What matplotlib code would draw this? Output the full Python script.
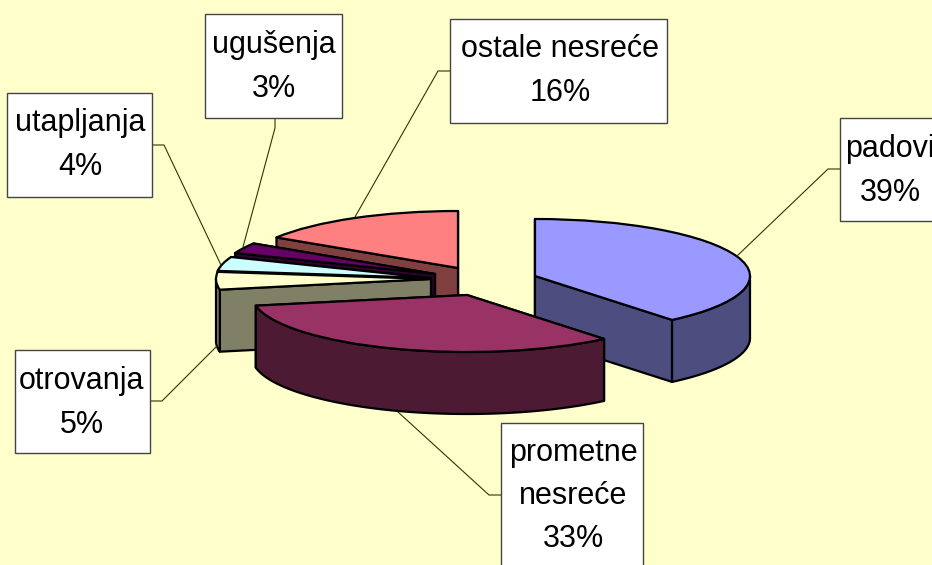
import numpy as np
import matplotlib
matplotlib.use('Agg')
import matplotlib.pyplot as plt
from matplotlib.patches import Rectangle

W, H = 932, 565
RX, RY = 215.0, 57.0   # pixels per pie radius, gives the flattened look
DEPTH = 62

labels = ['padovi', 'prometne\nnesreće', 'otrovanja', 'utapljanja', 'ugušenja', 'ostale nesreće']
values = [39, 33, 5, 4, 3, 16]
top_colors = ['#9999FF', '#993366', '#FFFFCC', '#CCFFFF', '#660066', '#FF8080']
wall_colors = ['#4D4D80', '#4D1A33', '#808066', '#668080', '#330033', '#804040']

# slice apex in picture pixels (exploded by hand)
apex = [(535, 276), (467, 295), (431, 279), (431, 278), (435, 274), (458, 268)]
# painter order, back to front
order = [5, 4, 3, 2, 0, 1]

# label boxes: left, top, right, bottom, text x, text y
boxes = [(840, 118, 945, 221, 890, 171),
         (501, 423, 643, 575, 573, 496),
         (15, 350, 150, 453, 82, 403),
         (7, 93, 152, 197, 80, 145),
         (205, 14, 342, 118, 274, 67),
         (450, 19, 667, 123, 560, 71)]
leaders = [[(840, 169), (828, 169), (737, 256)],
           [(501, 495), (489, 495), (398, 412)],
           [(150, 401), (162, 401), (217, 346)],
           [(152, 145), (164, 145), (221, 265)],
           [(275, 118), (275, 128), (243, 247)],
           [(450, 71), (438, 71), (355, 217)]]

def ux(x):
    return np.asarray(x) / RX
def uy(y):
    return (H - np.asarray(y)) / RY

plt.rcParams['font.family'] = ['Liberation Sans', 'DejaVu Sans']
bg = '#FFFFCC'
fig = plt.figure(figsize=(W / 100, H / 100), dpi=100, facecolor=bg)
ax = fig.add_axes([0, 0, 1, 1])

wedges, _ = ax.pie(values, colors=top_colors, startangle=90, counterclock=False,
                   wedgeprops={'edgecolor': 'black', 'linewidth': 1.6, 'joinstyle': 'round'})
ax.set_aspect('auto')
ax.set_xlim(0, W / RX)
ax.set_ylim(0, H / RY)
ax.axis('off')

edges = np.cumsum([0] + values) / sum(values) * 2 * np.pi
d = DEPTH / RY

def wall(pts, color, z):
    ax.fill([p[0] for p in pts], [p[1] for p in pts], facecolor=color, edgecolor='black',
            linewidth=1.6, joinstyle='round', zorder=z)

for z, i in enumerate(order):
    cx, cy = ux(apex[i][0]), uy(apex[i][1])
    a, b = edges[i], edges[i + 1]
    base = 10 + z * 5
    # the two cut faces, the one further back first
    for t in sorted((a, b), key=np.cos, reverse=True):
        ex, ey = cx + np.sin(t), cy + np.cos(t)
        wall([(cx, cy), (ex, ey), (ex, ey - d), (cx, cy - d)], wall_colors[i], base)
    # outer rim, only the part turned to the viewer
    lo, hi = max(a, np.pi / 2), min(b, 3 * np.pi / 2)
    if hi > lo:
        t = np.linspace(lo, hi, 80)
        xs, ys = cx + np.sin(t), cy + np.cos(t)
        pts = list(zip(xs, ys)) + list(zip(xs[::-1], ys[::-1] - d))
        wall(pts, wall_colors[i], base + 1)
    wedges[i].set_center((cx, cy))
    wedges[i].set_zorder(base + 2)

for i in range(len(values)):
    pts = leaders[i]
    ax.plot(ux([p[0] for p in pts]), uy([p[1] for p in pts]), color='#333300',
            linewidth=0.8, zorder=50)
    l, t, r, b, tx, ty = boxes[i]
    ax.add_patch(Rectangle((ux(l), uy(b)), ux(r) - ux(l), uy(t) - uy(b), facecolor='white',
                           edgecolor='#444444', linewidth=1.0, zorder=60))
    ax.text(ux(tx), uy(ty), labels[i] + '\n' + str(values[i]) + '%', ha='center', va='center',
            ma='center', fontsize=22, linespacing=1.58, color='black', zorder=70)

fig.savefig('out.png', dpi=100, facecolor=bg)
